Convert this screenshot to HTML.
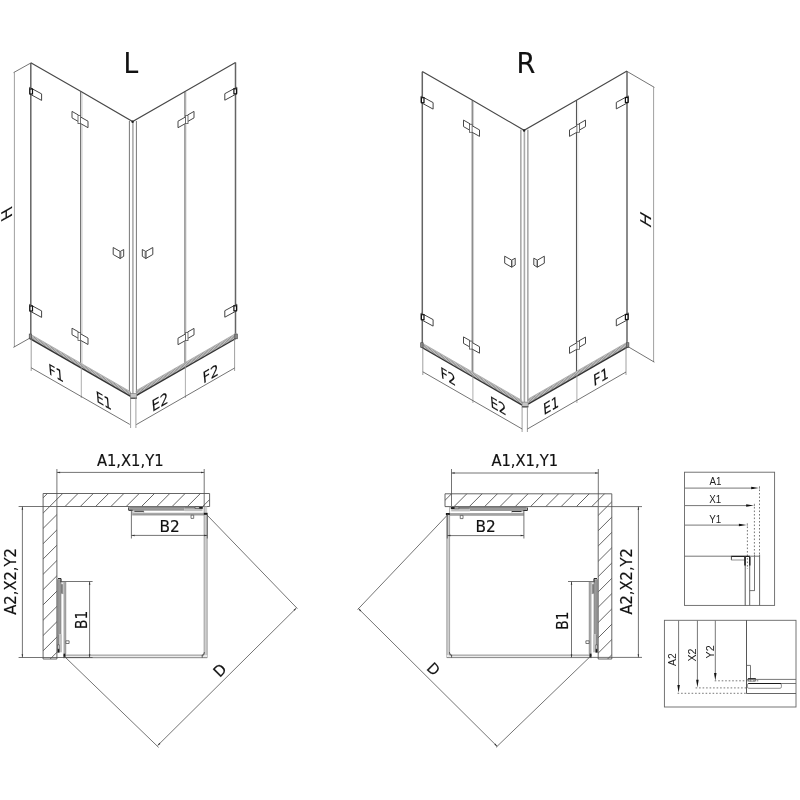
<!DOCTYPE html>
<html><head><meta charset="utf-8"><title>L / R</title>
<style>
html,body{margin:0;padding:0;background:#fff;}
body{width:800px;height:800px;overflow:hidden;}
svg{display:block;}
svg{will-change:transform;}
</style></head><body>
<svg width="800" height="800" viewBox="0 0 800 800">
<rect width="800" height="800" fill="#fff"/>
<g transform="translate(0,0)">
<line x1="30.80" y1="63.00" x2="30.80" y2="337.00" stroke="#646464" stroke-width="1.5" />
<line x1="235.50" y1="62.60" x2="235.50" y2="337.00" stroke="#646464" stroke-width="1.5" />
<line x1="80.70" y1="91.60" x2="80.70" y2="366.00" stroke="#555" stroke-width="1.0" />
<line x1="82.00" y1="93.00" x2="82.00" y2="366.00" stroke="#d0d0d0" stroke-width="1.1" />
<line x1="185.00" y1="91.60" x2="185.00" y2="366.00" stroke="#555" stroke-width="1.1" />
<line x1="186.30" y1="92.00" x2="186.30" y2="365.00" stroke="#e4e4e4" stroke-width="1.0" />
<line x1="129.40" y1="121.00" x2="129.40" y2="393.00" stroke="#666" stroke-width="0.9" />
<line x1="132.90" y1="122.00" x2="132.90" y2="394.00" stroke="#aaa" stroke-width="1.6" />
<line x1="136.40" y1="121.00" x2="136.40" y2="393.00" stroke="#666" stroke-width="0.9" />
<polyline points="30.80,62.80 81.00,91.60 132.60,121.60 185.00,91.60 235.50,62.40" stroke="#484848" stroke-width="1.15" fill="none" />
<circle cx="132.6" cy="121.8" r="1.2" fill="#222"/>
<polygon points="30.00,334.00 130.60,391.80 130.60,396.40 30.00,338.60" stroke="none" stroke-width="0" fill="#d0d0d0" />
<line x1="30.00" y1="336.30" x2="130.60" y2="394.10" stroke="#7a7a7a" stroke-width="3.5999999999999996" stroke-dasharray="0.6 0.8"/>
<line x1="30.00" y1="334.00" x2="130.60" y2="391.80" stroke="#aaa" stroke-width="0.8" />
<line x1="30.00" y1="338.60" x2="130.60" y2="396.40" stroke="#333" stroke-width="1.3" />
<polygon points="236.30,333.20 136.60,390.40 136.60,395.40 236.30,338.20" stroke="none" stroke-width="0" fill="#d0d0d0" />
<line x1="236.30" y1="335.70" x2="136.60" y2="392.90" stroke="#7a7a7a" stroke-width="4.0" stroke-dasharray="0.6 0.8"/>
<line x1="236.30" y1="333.20" x2="136.60" y2="390.40" stroke="#aaa" stroke-width="0.8" />
<line x1="236.30" y1="338.20" x2="136.60" y2="395.40" stroke="#333" stroke-width="1.3" />
<rect x="130.6" y="393.4" width="6.0" height="4.8" fill="#c4c4c4" stroke="#777" stroke-width="0.6"/>
<line x1="130.40" y1="398.20" x2="136.80" y2="398.20" stroke="#333" stroke-width="1.0" />
<rect x="29.2" y="334" width="2.4" height="4.8" fill="#888" stroke="#444" stroke-width="0.6"/>
<rect x="234.8" y="334" width="2.6" height="4.8" fill="#888" stroke="#444" stroke-width="0.6"/>
<polygon points="29.60,87.40 41.60,93.90 41.60,100.40 29.60,93.90" stroke="#444" stroke-width="1.0" fill="#fff" />
<rect x="29.90" y="89.00" width="2.6" height="5" fill="#fff" stroke="#111" stroke-width="1.2"/>
<polygon points="29.60,304.40 41.60,310.90 41.60,317.40 29.60,310.90" stroke="#444" stroke-width="1.0" fill="#fff" />
<rect x="29.90" y="306.00" width="2.6" height="5" fill="#fff" stroke="#111" stroke-width="1.2"/>
<polygon points="236.80,87.20 224.80,93.70 224.80,100.20 236.80,93.70" stroke="#444" stroke-width="1.0" fill="#fff" />
<rect x="233.90" y="88.80" width="2.6" height="5" fill="#fff" stroke="#111" stroke-width="1.2"/>
<polygon points="236.80,304.20 224.80,310.70 224.80,317.20 236.80,310.70" stroke="#444" stroke-width="1.0" fill="#fff" />
<rect x="233.90" y="305.80" width="2.6" height="5" fill="#fff" stroke="#111" stroke-width="1.2"/>
<polygon points="72.00,111.40 78.50,115.10 78.50,121.60 72.00,117.90" stroke="#484848" stroke-width="1.0" fill="#fff" />
<polygon points="80.00,116.70 88.00,121.20 88.00,127.70 80.00,123.20" stroke="#484848" stroke-width="1.0" fill="#fff" />
<rect x="78.00" y="115.60" width="2.6" height="8" fill="#fff" stroke="#555" stroke-width="0.8"/>
<polygon points="72.00,328.20 78.50,331.90 78.50,338.40 72.00,334.70" stroke="#484848" stroke-width="1.0" fill="#fff" />
<polygon points="80.00,333.50 88.00,338.00 88.00,344.50 80.00,340.00" stroke="#484848" stroke-width="1.0" fill="#fff" />
<rect x="78.00" y="332.40" width="2.6" height="8" fill="#fff" stroke="#555" stroke-width="0.8"/>
<polygon points="194.00,111.40 187.50,115.10 187.50,121.60 194.00,117.90" stroke="#484848" stroke-width="1.0" fill="#fff" />
<polygon points="186.00,116.70 178.00,121.20 178.00,127.70 186.00,123.20" stroke="#484848" stroke-width="1.0" fill="#fff" />
<rect x="185.40" y="115.60" width="2.6" height="8" fill="#fff" stroke="#555" stroke-width="0.8"/>
<polygon points="194.00,328.40 187.50,332.10 187.50,338.60 194.00,334.90" stroke="#484848" stroke-width="1.0" fill="#fff" />
<polygon points="186.00,333.70 178.00,338.20 178.00,344.70 186.00,340.20" stroke="#484848" stroke-width="1.0" fill="#fff" />
<rect x="185.40" y="332.60" width="2.6" height="8" fill="#fff" stroke="#555" stroke-width="0.8"/>
<polygon points="113.20,247.50 120.20,251.50 120.20,258.50 113.20,254.50" stroke="#444" stroke-width="1.0" fill="#fff" />
<polygon points="120.20,251.50 123.70,249.50 123.70,256.30 120.20,258.50" stroke="#444" stroke-width="1.0" fill="#fff" />
<line x1="121.20" y1="252.00" x2="121.20" y2="257.40" stroke="#999" stroke-width="0.7" />
<polygon points="152.80,247.50 145.80,251.50 145.80,258.50 152.80,254.50" stroke="#444" stroke-width="1.0" fill="#fff" />
<polygon points="145.80,251.50 142.30,249.50 142.30,256.30 145.80,258.50" stroke="#444" stroke-width="1.0" fill="#fff" />
<line x1="144.80" y1="252.00" x2="144.80" y2="257.40" stroke="#999" stroke-width="0.7" />
</g>
<line x1="30.80" y1="63.00" x2="13.60" y2="72.60" stroke="#505050" stroke-width="0.8" />
<line x1="14.40" y1="72.00" x2="14.40" y2="347.00" stroke="#888" stroke-width="0.8" />
<line x1="30.00" y1="338.00" x2="13.40" y2="347.40" stroke="#505050" stroke-width="0.8" />
<text transform="matrix(0.0000,-0.9504,0.8700,-0.4900,12.00,216.97)" font-size="16.99" fill="#111" stroke="#111" stroke-width="0.18" font-family="DejaVu Sans, Liberation Sans, sans-serif">H</text>
<line x1="31.20" y1="339.00" x2="31.20" y2="371.00" stroke="#888" stroke-width="0.8" />
<line x1="81.30" y1="366.00" x2="81.30" y2="398.00" stroke="#999" stroke-width="0.8" />
<line x1="130.60" y1="398.00" x2="130.60" y2="428.00" stroke="#888" stroke-width="0.8" />
<line x1="135.90" y1="398.00" x2="135.90" y2="428.00" stroke="#888" stroke-width="0.8" />
<line x1="185.40" y1="366.00" x2="185.40" y2="398.00" stroke="#999" stroke-width="0.8" />
<line x1="234.60" y1="339.00" x2="234.60" y2="371.00" stroke="#888" stroke-width="0.8" />
<line x1="31.20" y1="367.80" x2="129.80" y2="424.40" stroke="#505050" stroke-width="0.8" />
<line x1="136.30" y1="424.60" x2="234.60" y2="368.00" stroke="#505050" stroke-width="0.8" />
<text transform="matrix(0.9256,0.0000,0.0000,1.0000,123.53,72.80)" font-size="28.49" fill="#111" stroke="#111" stroke-width="0.18" font-family="DejaVu Sans, Liberation Sans, sans-serif">L</text>
<text transform="matrix(0.8206,0.4738,0.0900,1.0000,49.09,373.90)" font-size="15.07" fill="#111" stroke="#111" stroke-width="0.18" font-family="DejaVu Sans, Liberation Sans, sans-serif">F1</text>
<text transform="matrix(0.8142,0.4701,0.0900,1.0000,96.40,401.41)" font-size="15.07" fill="#111" stroke="#111" stroke-width="0.18" font-family="DejaVu Sans, Liberation Sans, sans-serif">E1</text>
<text transform="matrix(0.8410,-0.4856,0.0900,1.0000,152.35,411.92)" font-size="15.21" fill="#111" stroke="#111" stroke-width="0.18" font-family="DejaVu Sans, Liberation Sans, sans-serif">E2</text>
<text transform="matrix(0.8550,-0.4936,0.0900,1.0000,203.33,383.63)" font-size="15.21" fill="#111" stroke="#111" stroke-width="0.18" font-family="DejaVu Sans, Liberation Sans, sans-serif">F2</text>
<g transform="translate(391.5,8.7)">
<line x1="30.80" y1="63.00" x2="30.80" y2="337.00" stroke="#646464" stroke-width="1.5" />
<line x1="235.50" y1="62.60" x2="235.50" y2="337.00" stroke="#646464" stroke-width="1.5" />
<line x1="80.70" y1="91.60" x2="80.70" y2="366.00" stroke="#555" stroke-width="1.0" />
<line x1="82.00" y1="93.00" x2="82.00" y2="366.00" stroke="#d0d0d0" stroke-width="1.1" />
<line x1="185.00" y1="91.60" x2="185.00" y2="366.00" stroke="#555" stroke-width="1.1" />
<line x1="186.30" y1="92.00" x2="186.30" y2="365.00" stroke="#e4e4e4" stroke-width="1.0" />
<line x1="129.40" y1="121.00" x2="129.40" y2="393.00" stroke="#666" stroke-width="0.9" />
<line x1="132.90" y1="122.00" x2="132.90" y2="394.00" stroke="#aaa" stroke-width="1.6" />
<line x1="136.40" y1="121.00" x2="136.40" y2="393.00" stroke="#666" stroke-width="0.9" />
<polyline points="30.80,62.80 81.00,91.60 132.60,121.60 185.00,91.60 235.50,62.40" stroke="#484848" stroke-width="1.15" fill="none" />
<circle cx="132.6" cy="121.8" r="1.2" fill="#222"/>
<polygon points="30.00,334.00 130.60,391.80 130.60,396.40 30.00,338.60" stroke="none" stroke-width="0" fill="#d0d0d0" />
<line x1="30.00" y1="336.30" x2="130.60" y2="394.10" stroke="#7a7a7a" stroke-width="3.5999999999999996" stroke-dasharray="0.6 0.8"/>
<line x1="30.00" y1="334.00" x2="130.60" y2="391.80" stroke="#aaa" stroke-width="0.8" />
<line x1="30.00" y1="338.60" x2="130.60" y2="396.40" stroke="#333" stroke-width="1.3" />
<polygon points="236.30,333.20 136.60,390.40 136.60,395.40 236.30,338.20" stroke="none" stroke-width="0" fill="#d0d0d0" />
<line x1="236.30" y1="335.70" x2="136.60" y2="392.90" stroke="#7a7a7a" stroke-width="4.0" stroke-dasharray="0.6 0.8"/>
<line x1="236.30" y1="333.20" x2="136.60" y2="390.40" stroke="#aaa" stroke-width="0.8" />
<line x1="236.30" y1="338.20" x2="136.60" y2="395.40" stroke="#333" stroke-width="1.3" />
<rect x="130.6" y="393.4" width="6.0" height="4.8" fill="#c4c4c4" stroke="#777" stroke-width="0.6"/>
<line x1="130.40" y1="398.20" x2="136.80" y2="398.20" stroke="#333" stroke-width="1.0" />
<rect x="29.2" y="334" width="2.4" height="4.8" fill="#888" stroke="#444" stroke-width="0.6"/>
<rect x="234.8" y="334" width="2.6" height="4.8" fill="#888" stroke="#444" stroke-width="0.6"/>
<polygon points="29.60,87.40 41.60,93.90 41.60,100.40 29.60,93.90" stroke="#444" stroke-width="1.0" fill="#fff" />
<rect x="29.90" y="89.00" width="2.6" height="5" fill="#fff" stroke="#111" stroke-width="1.2"/>
<polygon points="29.60,304.40 41.60,310.90 41.60,317.40 29.60,310.90" stroke="#444" stroke-width="1.0" fill="#fff" />
<rect x="29.90" y="306.00" width="2.6" height="5" fill="#fff" stroke="#111" stroke-width="1.2"/>
<polygon points="236.80,87.20 224.80,93.70 224.80,100.20 236.80,93.70" stroke="#444" stroke-width="1.0" fill="#fff" />
<rect x="233.90" y="88.80" width="2.6" height="5" fill="#fff" stroke="#111" stroke-width="1.2"/>
<polygon points="236.80,304.20 224.80,310.70 224.80,317.20 236.80,310.70" stroke="#444" stroke-width="1.0" fill="#fff" />
<rect x="233.90" y="305.80" width="2.6" height="5" fill="#fff" stroke="#111" stroke-width="1.2"/>
<polygon points="72.00,111.40 78.50,115.10 78.50,121.60 72.00,117.90" stroke="#484848" stroke-width="1.0" fill="#fff" />
<polygon points="80.00,116.70 88.00,121.20 88.00,127.70 80.00,123.20" stroke="#484848" stroke-width="1.0" fill="#fff" />
<rect x="78.00" y="115.60" width="2.6" height="8" fill="#fff" stroke="#555" stroke-width="0.8"/>
<polygon points="72.00,328.20 78.50,331.90 78.50,338.40 72.00,334.70" stroke="#484848" stroke-width="1.0" fill="#fff" />
<polygon points="80.00,333.50 88.00,338.00 88.00,344.50 80.00,340.00" stroke="#484848" stroke-width="1.0" fill="#fff" />
<rect x="78.00" y="332.40" width="2.6" height="8" fill="#fff" stroke="#555" stroke-width="0.8"/>
<polygon points="194.00,111.40 187.50,115.10 187.50,121.60 194.00,117.90" stroke="#484848" stroke-width="1.0" fill="#fff" />
<polygon points="186.00,116.70 178.00,121.20 178.00,127.70 186.00,123.20" stroke="#484848" stroke-width="1.0" fill="#fff" />
<rect x="185.40" y="115.60" width="2.6" height="8" fill="#fff" stroke="#555" stroke-width="0.8"/>
<polygon points="194.00,328.40 187.50,332.10 187.50,338.60 194.00,334.90" stroke="#484848" stroke-width="1.0" fill="#fff" />
<polygon points="186.00,333.70 178.00,338.20 178.00,344.70 186.00,340.20" stroke="#484848" stroke-width="1.0" fill="#fff" />
<rect x="185.40" y="332.60" width="2.6" height="8" fill="#fff" stroke="#555" stroke-width="0.8"/>
<polygon points="113.20,247.50 120.20,251.50 120.20,258.50 113.20,254.50" stroke="#444" stroke-width="1.0" fill="#fff" />
<polygon points="120.20,251.50 123.70,249.50 123.70,256.30 120.20,258.50" stroke="#444" stroke-width="1.0" fill="#fff" />
<line x1="121.20" y1="252.00" x2="121.20" y2="257.40" stroke="#999" stroke-width="0.7" />
<polygon points="152.80,247.50 145.80,251.50 145.80,258.50 152.80,254.50" stroke="#444" stroke-width="1.0" fill="#fff" />
<polygon points="145.80,251.50 142.30,249.50 142.30,256.30 145.80,258.50" stroke="#444" stroke-width="1.0" fill="#fff" />
<line x1="144.80" y1="252.00" x2="144.80" y2="257.40" stroke="#999" stroke-width="0.7" />
</g>
<line x1="627.00" y1="71.40" x2="654.40" y2="87.40" stroke="#505050" stroke-width="0.8" />
<line x1="653.60" y1="87.00" x2="653.60" y2="362.00" stroke="#888" stroke-width="0.8" />
<line x1="627.60" y1="346.40" x2="654.40" y2="362.20" stroke="#505050" stroke-width="0.8" />
<text transform="matrix(0.0000,-0.9742,0.8610,0.5080,651.00,229.03)" font-size="17.12" fill="#111" stroke="#111" stroke-width="0.18" font-family="DejaVu Sans, Liberation Sans, sans-serif">H</text>
<line x1="422.80" y1="348.00" x2="422.80" y2="375.00" stroke="#888" stroke-width="0.8" />
<line x1="472.90" y1="375.00" x2="472.90" y2="403.00" stroke="#999" stroke-width="0.8" />
<line x1="522.10" y1="407.00" x2="522.10" y2="432.00" stroke="#888" stroke-width="0.8" />
<line x1="527.40" y1="407.00" x2="527.40" y2="432.00" stroke="#888" stroke-width="0.8" />
<line x1="576.90" y1="375.00" x2="576.90" y2="403.00" stroke="#999" stroke-width="0.8" />
<line x1="626.00" y1="348.00" x2="626.00" y2="375.00" stroke="#888" stroke-width="0.8" />
<line x1="422.80" y1="371.80" x2="522.20" y2="429.00" stroke="#505050" stroke-width="0.8" />
<line x1="527.40" y1="429.00" x2="626.00" y2="372.00" stroke="#505050" stroke-width="0.8" />
<text transform="matrix(0.9524,0.0000,0.0000,1.0000,516.45,72.80)" font-size="28.49" fill="#111" stroke="#111" stroke-width="0.18" font-family="DejaVu Sans, Liberation Sans, sans-serif">R</text>
<text transform="matrix(0.8325,0.4807,0.0900,1.0000,440.97,377.49)" font-size="15.21" fill="#111" stroke="#111" stroke-width="0.18" font-family="DejaVu Sans, Liberation Sans, sans-serif">F2</text>
<text transform="matrix(0.8303,0.4794,0.0900,1.0000,490.67,406.69)" font-size="15.21" fill="#111" stroke="#111" stroke-width="0.18" font-family="DejaVu Sans, Liberation Sans, sans-serif">E2</text>
<text transform="matrix(0.8016,-0.4628,0.0900,1.0000,543.81,415.29)" font-size="15.21" fill="#111" stroke="#111" stroke-width="0.18" font-family="DejaVu Sans, Liberation Sans, sans-serif">E1</text>
<text transform="matrix(0.8244,-0.4760,0.0900,1.0000,593.78,386.41)" font-size="15.21" fill="#111" stroke="#111" stroke-width="0.18" font-family="DejaVu Sans, Liberation Sans, sans-serif">F1</text>
<clipPath id="wl"><polygon points="43.10,493.50 209.60,493.50 209.60,506.50 56.90,506.50 56.90,659.00 43.10,659.00"/></clipPath>
<g clip-path="url(#wl)">
<line x1="60.90" y1="480.00" x2="-139.10" y2="680.00" stroke="#4a4a4a" stroke-width="0.85" />
<line x1="76.20" y1="480.00" x2="-123.80" y2="680.00" stroke="#4a4a4a" stroke-width="0.85" />
<line x1="91.50" y1="480.00" x2="-108.50" y2="680.00" stroke="#4a4a4a" stroke-width="0.85" />
<line x1="106.80" y1="480.00" x2="-93.20" y2="680.00" stroke="#4a4a4a" stroke-width="0.85" />
<line x1="122.10" y1="480.00" x2="-77.90" y2="680.00" stroke="#4a4a4a" stroke-width="0.85" />
<line x1="137.40" y1="480.00" x2="-62.60" y2="680.00" stroke="#4a4a4a" stroke-width="0.85" />
<line x1="152.70" y1="480.00" x2="-47.30" y2="680.00" stroke="#4a4a4a" stroke-width="0.85" />
<line x1="168.00" y1="480.00" x2="-32.00" y2="680.00" stroke="#4a4a4a" stroke-width="0.85" />
<line x1="183.30" y1="480.00" x2="-16.70" y2="680.00" stroke="#4a4a4a" stroke-width="0.85" />
<line x1="198.60" y1="480.00" x2="-1.40" y2="680.00" stroke="#4a4a4a" stroke-width="0.85" />
<line x1="213.90" y1="480.00" x2="13.90" y2="680.00" stroke="#4a4a4a" stroke-width="0.85" />
<line x1="229.20" y1="480.00" x2="29.20" y2="680.00" stroke="#4a4a4a" stroke-width="0.85" />
<line x1="244.50" y1="480.00" x2="44.50" y2="680.00" stroke="#4a4a4a" stroke-width="0.85" />
<line x1="259.80" y1="480.00" x2="59.80" y2="680.00" stroke="#4a4a4a" stroke-width="0.85" />
<line x1="275.10" y1="480.00" x2="75.10" y2="680.00" stroke="#4a4a4a" stroke-width="0.85" />
</g>
<polygon points="43.10,493.50 209.60,493.50 209.60,506.50 56.90,506.50 56.90,659.00 43.10,659.00" stroke="#555" stroke-width="0.9" fill="none" />
<line x1="56.90" y1="469.00" x2="56.90" y2="506.50" stroke="#505050" stroke-width="0.8" />
<line x1="204.20" y1="469.00" x2="204.20" y2="506.00" stroke="#505050" stroke-width="0.8" />
<line x1="56.90" y1="472.40" x2="204.20" y2="472.40" stroke="#505050" stroke-width="0.8" />
<polygon points="56.90,472.40 60.10,471.65 60.10,473.15" fill="#333"/>
<polygon points="204.20,472.40 201.00,473.15 201.00,471.65" fill="#333"/>
<text transform="matrix(0.9273,0.0000,0.0000,1.0000,96.89,465.80)" font-size="15.89" fill="#111" stroke="#111" stroke-width="0.18" font-family="DejaVu Sans, Liberation Sans, sans-serif">A1,X1,Y1</text>
<line x1="18.60" y1="506.50" x2="56.90" y2="506.50" stroke="#505050" stroke-width="0.8" />
<line x1="18.60" y1="657.50" x2="63.00" y2="657.50" stroke="#505050" stroke-width="0.8" />
<line x1="22.40" y1="506.50" x2="22.40" y2="657.50" stroke="#505050" stroke-width="0.8" />
<polygon points="22.40,506.50 23.15,509.70 21.65,509.70" fill="#333"/>
<polygon points="22.40,657.50 21.65,654.30 23.15,654.30" fill="#333"/>
<text transform="matrix(0.0000,-0.8956,1.0000,0.0000,15.60,614.71)" font-size="16.44" fill="#111" stroke="#111" stroke-width="0.18" font-family="DejaVu Sans, Liberation Sans, sans-serif">A2,X2,Y2</text>
<rect x="204.1" y="506.5" width="3.1" height="151.2" fill="#cfcfcf"/>
<line x1="204.10" y1="506.00" x2="204.10" y2="657.70" stroke="#888" stroke-width="0.7" />
<line x1="207.20" y1="514.00" x2="207.20" y2="657.70" stroke="#888" stroke-width="0.7" />
<rect x="63" y="655.1" width="144.2" height="2.6" fill="#ececec"/>
<line x1="63.00" y1="655.10" x2="204.00" y2="655.10" stroke="#777" stroke-width="0.8" />
<line x1="63.00" y1="657.70" x2="207.20" y2="657.70" stroke="#6a6a6a" stroke-width="0.8" />
<polyline points="202.20,657.60 202.20,655.00 203.60,654.60 204.40,652.20" stroke="#333" stroke-width="0.8" fill="none" />
<polygon points="129.40,506.80 184.40,506.80 184.40,510.30 129.40,510.30" stroke="none" stroke-width="0" fill="#9a9a9a" />
<polygon points="184.40,506.80 203.00,506.80 203.00,508.80 184.40,508.80" stroke="none" stroke-width="0" fill="#8c8c8c" />
<polygon points="184.40,508.80 202.50,508.80 202.50,511.20 184.40,511.20" stroke="none" stroke-width="0" fill="#c0c0c0" />
<line x1="129.40" y1="507.00" x2="203.00" y2="507.00" stroke="#6a6a6a" stroke-width="0.7" />
<line x1="129.40" y1="510.30" x2="184.40" y2="510.30" stroke="#7a7a7a" stroke-width="0.6" />
<polygon points="195.00,507.00 199.40,507.00 199.40,508.50 195.00,508.50" stroke="#333" stroke-width="0.6" fill="#fff" />
<polygon points="199.40,506.90 202.60,506.90 202.60,508.80 199.40,508.80" stroke="none" stroke-width="0" fill="#1a1a1a" />
<polyline points="128.70,507.30 128.70,510.30 132.60,510.30" stroke="#2a2a2a" stroke-width="1.0" fill="none" />
<polygon points="132.60,511.20 143.80,511.20 143.80,513.00 132.60,513.00" stroke="#999" stroke-width="0.5" fill="#fff" />
<line x1="134.40" y1="511.30" x2="143.80" y2="511.30" stroke="#222" stroke-width="0.9" />
<polygon points="132.20,512.80 204.00,512.80 204.00,515.10 132.20,515.10" stroke="none" stroke-width="0" fill="#a8a8a8" />
<line x1="132.20" y1="515.10" x2="204.00" y2="515.10" stroke="#777" stroke-width="0.6" />
<polygon points="191.00,515.20 193.70,515.20 193.70,518.40 191.00,518.40" stroke="#555" stroke-width="0.8" fill="#fff" />
<polygon points="203.80,512.80 207.60,512.80 207.60,514.80 203.80,514.80" stroke="none" stroke-width="0" fill="#1a1a1a" />
<line x1="131.40" y1="510.30" x2="131.40" y2="538.50" stroke="#505050" stroke-width="0.8" />
<line x1="131.40" y1="535.40" x2="207.30" y2="535.40" stroke="#505050" stroke-width="0.8" />
<polygon points="131.40,535.40 134.60,534.65 134.60,536.15" fill="#333"/>
<polygon points="207.30,535.40 204.10,536.15 204.10,534.65" fill="#333"/>
<line x1="207.30" y1="515.00" x2="207.30" y2="538.50" stroke="#505050" stroke-width="0.8" />
<text transform="matrix(0.9479,0.0000,0.0000,1.0000,159.51,531.80)" font-size="16.16" fill="#111" stroke="#111" stroke-width="0.18" font-family="DejaVu Sans, Liberation Sans, sans-serif">B2</text>
<polygon points="57.50,579.20 57.50,634.20 61.00,634.20 61.00,579.20" stroke="none" stroke-width="0" fill="#9a9a9a" />
<polygon points="57.50,634.20 57.50,652.80 59.50,652.80 59.50,634.20" stroke="none" stroke-width="0" fill="#8c8c8c" />
<polygon points="59.50,634.20 59.50,652.30 61.90,652.30 61.90,634.20" stroke="none" stroke-width="0" fill="#c0c0c0" />
<line x1="57.70" y1="579.20" x2="57.70" y2="652.80" stroke="#6a6a6a" stroke-width="0.7" />
<line x1="61.00" y1="579.20" x2="61.00" y2="634.20" stroke="#7a7a7a" stroke-width="0.6" />
<polygon points="57.70,644.80 57.70,649.20 59.20,649.20 59.20,644.80" stroke="#333" stroke-width="0.6" fill="#fff" />
<polygon points="57.60,649.20 57.60,652.40 59.50,652.40 59.50,649.20" stroke="none" stroke-width="0" fill="#1a1a1a" />
<polyline points="58.00,578.50 61.00,578.50 61.00,582.40" stroke="#2a2a2a" stroke-width="1.0" fill="none" />
<polygon points="61.90,582.40 61.90,593.60 63.70,593.60 63.70,582.40" stroke="#999" stroke-width="0.5" fill="#fff" />
<line x1="62.00" y1="584.20" x2="62.00" y2="593.60" stroke="#222" stroke-width="0.9" />
<polygon points="63.50,582.00 63.50,653.80 65.80,653.80 65.80,582.00" stroke="none" stroke-width="0" fill="#a8a8a8" />
<line x1="65.80" y1="582.00" x2="65.80" y2="653.80" stroke="#777" stroke-width="0.6" />
<polygon points="65.90,640.80 65.90,643.50 69.10,643.50 69.10,640.80" stroke="#555" stroke-width="0.8" fill="#fff" />
<polygon points="63.50,653.60 63.50,657.40 65.50,657.40 65.50,653.60" stroke="none" stroke-width="0" fill="#1a1a1a" />
<line x1="60.60" y1="581.50" x2="92.60" y2="581.50" stroke="#505050" stroke-width="0.8" />
<line x1="89.60" y1="581.50" x2="89.60" y2="657.50" stroke="#505050" stroke-width="0.8" />
<polygon points="89.60,581.50 90.35,584.70 88.85,584.70" fill="#333"/>
<polygon points="89.60,657.50 88.85,654.30 90.35,654.30" fill="#333"/>
<line x1="63.00" y1="657.50" x2="92.60" y2="657.50" stroke="#505050" stroke-width="0.8" />
<text transform="matrix(0.0000,-0.8242,1.0000,0.0000,86.90,628.94)" font-size="16.71" fill="#111" stroke="#111" stroke-width="0.18" font-family="DejaVu Sans, Liberation Sans, sans-serif">B1</text>
<line x1="207.00" y1="515.00" x2="297.40" y2="608.60" stroke="#505050" stroke-width="0.8" />
<line x1="64.40" y1="656.40" x2="158.60" y2="747.40" stroke="#505050" stroke-width="0.8" />
<line x1="296.40" y1="608.00" x2="157.60" y2="745.60" stroke="#505050" stroke-width="0.8" />
<polygon points="296.40,608.00 294.66,610.79 293.60,609.72" fill="#333"/>
<polygon points="157.60,745.60 159.34,742.81 160.40,743.88" fill="#333"/>
<text transform="matrix(0.6681,-0.6681,0.7071,0.7071,219.81,677.99)" font-size="15.21" fill="#111" stroke="#111" stroke-width="0.18" font-family="DejaVu Sans, Liberation Sans, sans-serif">D</text>
<clipPath id="wr"><polygon points="445.00,493.80 611.80,493.80 611.80,659.00 598.20,659.00 598.20,506.60 445.00,506.60"/></clipPath>
<g clip-path="url(#wr)">
<line x1="450.00" y1="480.00" x2="250.00" y2="680.00" stroke="#4a4a4a" stroke-width="0.85" />
<line x1="465.30" y1="480.00" x2="265.30" y2="680.00" stroke="#4a4a4a" stroke-width="0.85" />
<line x1="480.60" y1="480.00" x2="280.60" y2="680.00" stroke="#4a4a4a" stroke-width="0.85" />
<line x1="495.90" y1="480.00" x2="295.90" y2="680.00" stroke="#4a4a4a" stroke-width="0.85" />
<line x1="511.20" y1="480.00" x2="311.20" y2="680.00" stroke="#4a4a4a" stroke-width="0.85" />
<line x1="526.50" y1="480.00" x2="326.50" y2="680.00" stroke="#4a4a4a" stroke-width="0.85" />
<line x1="541.80" y1="480.00" x2="341.80" y2="680.00" stroke="#4a4a4a" stroke-width="0.85" />
<line x1="557.10" y1="480.00" x2="357.10" y2="680.00" stroke="#4a4a4a" stroke-width="0.85" />
<line x1="572.40" y1="480.00" x2="372.40" y2="680.00" stroke="#4a4a4a" stroke-width="0.85" />
<line x1="587.70" y1="480.00" x2="387.70" y2="680.00" stroke="#4a4a4a" stroke-width="0.85" />
<line x1="603.00" y1="480.00" x2="403.00" y2="680.00" stroke="#4a4a4a" stroke-width="0.85" />
<line x1="618.30" y1="480.00" x2="418.30" y2="680.00" stroke="#4a4a4a" stroke-width="0.85" />
<line x1="633.60" y1="480.00" x2="433.60" y2="680.00" stroke="#4a4a4a" stroke-width="0.85" />
<line x1="648.90" y1="480.00" x2="448.90" y2="680.00" stroke="#4a4a4a" stroke-width="0.85" />
<line x1="664.20" y1="480.00" x2="464.20" y2="680.00" stroke="#4a4a4a" stroke-width="0.85" />
<line x1="679.50" y1="480.00" x2="479.50" y2="680.00" stroke="#4a4a4a" stroke-width="0.85" />
<line x1="694.80" y1="480.00" x2="494.80" y2="680.00" stroke="#4a4a4a" stroke-width="0.85" />
<line x1="710.10" y1="480.00" x2="510.10" y2="680.00" stroke="#4a4a4a" stroke-width="0.85" />
<line x1="725.40" y1="480.00" x2="525.40" y2="680.00" stroke="#4a4a4a" stroke-width="0.85" />
<line x1="740.70" y1="480.00" x2="540.70" y2="680.00" stroke="#4a4a4a" stroke-width="0.85" />
<line x1="756.00" y1="480.00" x2="556.00" y2="680.00" stroke="#4a4a4a" stroke-width="0.85" />
<line x1="771.30" y1="480.00" x2="571.30" y2="680.00" stroke="#4a4a4a" stroke-width="0.85" />
<line x1="786.60" y1="480.00" x2="586.60" y2="680.00" stroke="#4a4a4a" stroke-width="0.85" />
<line x1="801.90" y1="480.00" x2="601.90" y2="680.00" stroke="#4a4a4a" stroke-width="0.85" />
<line x1="817.20" y1="480.00" x2="617.20" y2="680.00" stroke="#4a4a4a" stroke-width="0.85" />
</g>
<polygon points="445.00,493.80 611.80,493.80 611.80,659.00 598.20,659.00 598.20,506.60 445.00,506.60" stroke="#555" stroke-width="0.9" fill="none" />
<line x1="451.50" y1="469.00" x2="451.50" y2="506.00" stroke="#505050" stroke-width="0.8" />
<line x1="598.30" y1="469.00" x2="598.30" y2="506.60" stroke="#505050" stroke-width="0.8" />
<line x1="451.50" y1="473.00" x2="598.30" y2="473.00" stroke="#505050" stroke-width="0.8" />
<polygon points="451.50,473.00 454.70,472.25 454.70,473.75" fill="#333"/>
<polygon points="598.30,473.00 595.10,473.75 595.10,472.25" fill="#333"/>
<text transform="matrix(0.9273,0.0000,0.0000,1.0000,491.39,466.00)" font-size="15.89" fill="#111" stroke="#111" stroke-width="0.18" font-family="DejaVu Sans, Liberation Sans, sans-serif">A1,X1,Y1</text>
<line x1="598.30" y1="506.60" x2="642.00" y2="506.60" stroke="#505050" stroke-width="0.8" />
<line x1="570.00" y1="657.40" x2="642.00" y2="657.40" stroke="#505050" stroke-width="0.8" />
<line x1="638.40" y1="506.60" x2="638.40" y2="657.40" stroke="#505050" stroke-width="0.8" />
<polygon points="638.40,506.60 639.15,509.80 637.65,509.80" fill="#333"/>
<polygon points="638.40,657.40 637.65,654.20 639.15,654.20" fill="#333"/>
<text transform="matrix(0.0000,-0.8929,1.0000,0.0000,631.60,614.51)" font-size="16.44" fill="#111" stroke="#111" stroke-width="0.18" font-family="DejaVu Sans, Liberation Sans, sans-serif">A2,X2,Y2</text>
<rect x="446.8" y="513" width="2.8" height="144.6" fill="#cfcfcf"/>
<line x1="446.80" y1="513.00" x2="446.80" y2="657.60" stroke="#888" stroke-width="0.7" />
<line x1="449.60" y1="506.60" x2="449.60" y2="655.00" stroke="#888" stroke-width="0.7" />
<rect x="446.8" y="655.1" width="145" height="2.5" fill="#ececec"/>
<line x1="449.60" y1="655.10" x2="592.00" y2="655.10" stroke="#777" stroke-width="0.8" />
<line x1="446.80" y1="657.60" x2="592.00" y2="657.60" stroke="#6a6a6a" stroke-width="0.8" />
<polyline points="451.60,657.50 451.60,655.00 450.20,654.60 449.40,652.20" stroke="#333" stroke-width="0.8" fill="none" />
<polygon points="526.66,507.00 469.85,507.00 469.85,510.50 526.66,510.50" stroke="none" stroke-width="0" fill="#9a9a9a" />
<polygon points="469.85,507.00 450.63,507.00 450.63,509.00 469.85,509.00" stroke="none" stroke-width="0" fill="#8c8c8c" />
<polygon points="469.85,509.00 451.15,509.00 451.15,511.40 469.85,511.40" stroke="none" stroke-width="0" fill="#c0c0c0" />
<line x1="526.66" y1="507.20" x2="450.63" y2="507.20" stroke="#6a6a6a" stroke-width="0.7" />
<line x1="526.66" y1="510.50" x2="469.85" y2="510.50" stroke="#7a7a7a" stroke-width="0.6" />
<polygon points="458.90,507.20 454.35,507.20 454.35,508.70 458.90,508.70" stroke="#333" stroke-width="0.6" fill="#fff" />
<polygon points="454.35,507.10 451.05,507.10 451.05,509.00 454.35,509.00" stroke="none" stroke-width="0" fill="#1a1a1a" />
<polyline points="527.38,507.50 527.38,510.50 523.36,510.50" stroke="#2a2a2a" stroke-width="1.0" fill="none" />
<polygon points="523.36,511.40 511.79,511.40 511.79,513.20 523.36,513.20" stroke="#999" stroke-width="0.5" fill="#fff" />
<line x1="521.50" y1="511.50" x2="511.79" y2="511.50" stroke="#222" stroke-width="0.9" />
<polygon points="523.77,513.00 449.60,513.00 449.60,515.30 523.77,515.30" stroke="none" stroke-width="0" fill="#a8a8a8" />
<line x1="523.77" y1="515.30" x2="449.60" y2="515.30" stroke="#777" stroke-width="0.6" />
<polygon points="463.03,515.40 460.24,515.40 460.24,518.60 463.03,518.60" stroke="#555" stroke-width="0.8" fill="#fff" />
<polygon points="449.81,513.00 445.88,513.00 445.88,515.00 449.81,515.00" stroke="none" stroke-width="0" fill="#1a1a1a" />
<line x1="447.30" y1="515.00" x2="447.30" y2="538.50" stroke="#505050" stroke-width="0.8" />
<line x1="447.30" y1="535.60" x2="523.90" y2="535.60" stroke="#505050" stroke-width="0.8" />
<polygon points="447.30,535.60 450.50,534.85 450.50,536.35" fill="#333"/>
<polygon points="523.90,535.60 520.70,536.35 520.70,534.85" fill="#333"/>
<line x1="523.90" y1="510.50" x2="523.90" y2="538.50" stroke="#505050" stroke-width="0.8" />
<text transform="matrix(0.9479,0.0000,0.0000,1.0000,475.51,531.80)" font-size="16.16" fill="#111" stroke="#111" stroke-width="0.18" font-family="DejaVu Sans, Liberation Sans, sans-serif">B2</text>
<polygon points="597.50,579.20 597.50,634.20 594.00,634.20 594.00,579.20" stroke="none" stroke-width="0" fill="#9a9a9a" />
<polygon points="597.50,634.20 597.50,652.80 595.50,652.80 595.50,634.20" stroke="none" stroke-width="0" fill="#8c8c8c" />
<polygon points="595.50,634.20 595.50,652.30 593.10,652.30 593.10,634.20" stroke="none" stroke-width="0" fill="#c0c0c0" />
<line x1="597.30" y1="579.20" x2="597.30" y2="652.80" stroke="#6a6a6a" stroke-width="0.7" />
<line x1="594.00" y1="579.20" x2="594.00" y2="634.20" stroke="#7a7a7a" stroke-width="0.6" />
<polygon points="597.30,644.80 597.30,649.20 595.80,649.20 595.80,644.80" stroke="#333" stroke-width="0.6" fill="#fff" />
<polygon points="597.40,649.20 597.40,652.40 595.50,652.40 595.50,649.20" stroke="none" stroke-width="0" fill="#1a1a1a" />
<polyline points="597.00,578.50 594.00,578.50 594.00,582.40" stroke="#2a2a2a" stroke-width="1.0" fill="none" />
<polygon points="593.10,582.40 593.10,593.60 591.30,593.60 591.30,582.40" stroke="#999" stroke-width="0.5" fill="#fff" />
<line x1="593.00" y1="584.20" x2="593.00" y2="593.60" stroke="#222" stroke-width="0.9" />
<polygon points="591.50,582.00 591.50,653.80 589.20,653.80 589.20,582.00" stroke="none" stroke-width="0" fill="#a8a8a8" />
<line x1="589.20" y1="582.00" x2="589.20" y2="653.80" stroke="#777" stroke-width="0.6" />
<polygon points="589.10,640.80 589.10,643.50 585.90,643.50 585.90,640.80" stroke="#555" stroke-width="0.8" fill="#fff" />
<polygon points="591.50,653.60 591.50,657.40 589.50,657.40 589.50,653.60" stroke="none" stroke-width="0" fill="#1a1a1a" />
<line x1="568.00" y1="581.50" x2="594.00" y2="581.50" stroke="#505050" stroke-width="0.8" />
<line x1="571.50" y1="581.50" x2="571.50" y2="657.40" stroke="#505050" stroke-width="0.8" />
<polygon points="571.50,581.50 572.25,584.70 570.75,584.70" fill="#333"/>
<polygon points="571.50,657.40 570.75,654.20 572.25,654.20" fill="#333"/>
<text transform="matrix(0.0000,-0.8242,1.0000,0.0000,568.30,629.74)" font-size="16.71" fill="#111" stroke="#111" stroke-width="0.18" font-family="DejaVu Sans, Liberation Sans, sans-serif">B1</text>
<line x1="448.40" y1="514.00" x2="357.60" y2="609.60" stroke="#505050" stroke-width="0.8" />
<line x1="590.60" y1="656.20" x2="496.00" y2="747.40" stroke="#505050" stroke-width="0.8" />
<line x1="358.40" y1="608.60" x2="497.20" y2="746.40" stroke="#505050" stroke-width="0.8" />
<polygon points="358.40,608.60 361.20,610.32 360.14,611.39" fill="#333"/>
<polygon points="497.20,746.40 494.40,744.68 495.46,743.61" fill="#333"/>
<text transform="matrix(0.6681,0.6681,-0.7071,0.7071,425.81,669.01)" font-size="15.21" fill="#111" stroke="#111" stroke-width="0.18" font-family="DejaVu Sans, Liberation Sans, sans-serif">D</text>
<rect x="684.5" y="472.2" width="90.1" height="133.2" fill="none" stroke="#666" stroke-width="0.9"/>
<line x1="684.50" y1="488.10" x2="753.80" y2="488.10" stroke="#777" stroke-width="1.0" />
<polygon points="758.8,488.1 751.1999999999999,486.85 751.1999999999999,489.35" fill="#111"/>
<line x1="759.50" y1="486.30" x2="759.50" y2="488.70" stroke="#555" stroke-width="0.7" />
<text transform="matrix(0.9633,0.0000,0.0000,1.0000,709.48,485.00)" font-size="10.18" fill="#222" font-family="Liberation Sans, Arial, sans-serif">A1</text>
<line x1="684.50" y1="505.60" x2="748.80" y2="505.60" stroke="#777" stroke-width="1.0" />
<polygon points="753.8,505.6 746.1999999999999,504.35 746.1999999999999,506.85" fill="#111"/>
<line x1="754.40" y1="503.80" x2="754.40" y2="506.20" stroke="#555" stroke-width="0.7" />
<text transform="matrix(0.9630,0.0000,0.0000,1.0000,709.28,503.40)" font-size="10.18" fill="#222" font-family="Liberation Sans, Arial, sans-serif">X1</text>
<line x1="684.50" y1="525.10" x2="741.50" y2="525.10" stroke="#777" stroke-width="1.0" />
<polygon points="746.5,525.1 738.9,523.85 738.9,526.35" fill="#111"/>
<line x1="747.30" y1="523.30" x2="747.30" y2="525.70" stroke="#555" stroke-width="0.7" />
<text transform="matrix(0.9630,0.0000,0.0000,1.0000,709.28,522.90)" font-size="10.18" fill="#222" font-family="Liberation Sans, Arial, sans-serif">Y1</text>
<line x1="759.50" y1="489.50" x2="759.50" y2="555.00" stroke="#555" stroke-width="0.8" stroke-dasharray="1.6 1.9"/>
<line x1="754.40" y1="507.00" x2="754.40" y2="555.00" stroke="#555" stroke-width="0.8" stroke-dasharray="1.6 1.9"/>
<line x1="747.40" y1="526.50" x2="747.40" y2="569.00" stroke="#555" stroke-width="0.8" stroke-dasharray="1.6 1.9"/>
<line x1="684.50" y1="556.20" x2="759.60" y2="556.20" stroke="#666" stroke-width="0.9" />
<line x1="731.20" y1="556.40" x2="750.00" y2="556.40" stroke="#222" stroke-width="1.2" />
<line x1="731.40" y1="556.20" x2="731.40" y2="560.00" stroke="#333" stroke-width="0.9" />
<line x1="731.20" y1="560.00" x2="745.00" y2="560.00" stroke="#888" stroke-width="0.9" />
<line x1="745.20" y1="556.40" x2="745.20" y2="605.40" stroke="#444" stroke-width="0.9" />
<line x1="749.70" y1="556.40" x2="749.70" y2="605.40" stroke="#555" stroke-width="0.9" />
<line x1="745.00" y1="557.00" x2="745.00" y2="565.60" stroke="#222" stroke-width="1.6" />
<line x1="749.80" y1="557.00" x2="749.80" y2="565.60" stroke="#222" stroke-width="1.4" />
<line x1="754.50" y1="554.60" x2="754.50" y2="590.60" stroke="#666" stroke-width="0.9" />
<line x1="749.70" y1="590.60" x2="754.90" y2="590.60" stroke="#666" stroke-width="0.9" />
<line x1="759.60" y1="554.60" x2="759.60" y2="605.40" stroke="#555" stroke-width="0.9" />
<rect x="664.4" y="620.3" width="131.6" height="86.7" fill="none" stroke="#666" stroke-width="0.9"/>
<line x1="678.60" y1="620.30" x2="678.60" y2="687.70" stroke="#777" stroke-width="1.0" />
<polygon points="678.6,692.7 677.35,685.1 679.85,685.1" fill="#111"/>
<text transform="matrix(0.0000,-0.9608,1.0000,0.0000,676.20,665.93)" font-size="10.76" fill="#222" font-family="Liberation Sans, Arial, sans-serif">A2</text>
<line x1="697.40" y1="620.30" x2="697.40" y2="682.40" stroke="#777" stroke-width="1.0" />
<polygon points="697.4,687.4 696.15,679.8 698.65,679.8" fill="#111"/>
<text transform="matrix(0.0000,-0.9550,1.0000,0.0000,695.60,661.54)" font-size="11.20" fill="#222" font-family="Liberation Sans, Arial, sans-serif">X2</text>
<line x1="715.30" y1="620.30" x2="715.30" y2="675.70" stroke="#777" stroke-width="1.0" />
<polygon points="715.3,680.7 714.05,673.1 716.55,673.1" fill="#111"/>
<text transform="matrix(0.0000,-0.9627,1.0000,0.0000,713.90,658.44)" font-size="11.20" fill="#222" font-family="Liberation Sans, Arial, sans-serif">Y2</text>
<line x1="677.60" y1="693.30" x2="746.50" y2="693.30" stroke="#555" stroke-width="0.8" stroke-dasharray="1.6 1.9"/>
<line x1="695.60" y1="687.90" x2="746.50" y2="687.90" stroke="#555" stroke-width="0.8" stroke-dasharray="1.6 1.9"/>
<line x1="714.70" y1="680.80" x2="760.00" y2="680.80" stroke="#555" stroke-width="0.8" stroke-dasharray="1.6 1.9"/>
<line x1="746.50" y1="620.30" x2="746.50" y2="693.60" stroke="#444" stroke-width="0.9" />
<line x1="746.50" y1="693.50" x2="796.00" y2="693.50" stroke="#555" stroke-width="0.9" />
<line x1="746.50" y1="679.40" x2="796.00" y2="679.40" stroke="#666" stroke-width="0.9" />
<rect x="747.4" y="683.5" width="34" height="4.8" rx="1.4" fill="none" stroke="#777" stroke-width="0.8"/>
<line x1="748.00" y1="683.50" x2="796.00" y2="683.50" stroke="#666" stroke-width="0.9" />
<line x1="748.40" y1="683.50" x2="781.00" y2="683.50" stroke="#1a1a1a" stroke-width="1.1" />
<polyline points="746.50,665.40 750.50,665.40 750.50,679.60" stroke="#555" stroke-width="0.8" fill="none" />
<rect x="748.3" y="678.6" width="7.2" height="2.5" fill="none" stroke="#555" stroke-width="0.7"/>
<line x1="748.30" y1="678.60" x2="755.50" y2="678.60" stroke="#222" stroke-width="0.9" />
</svg></body></html>
